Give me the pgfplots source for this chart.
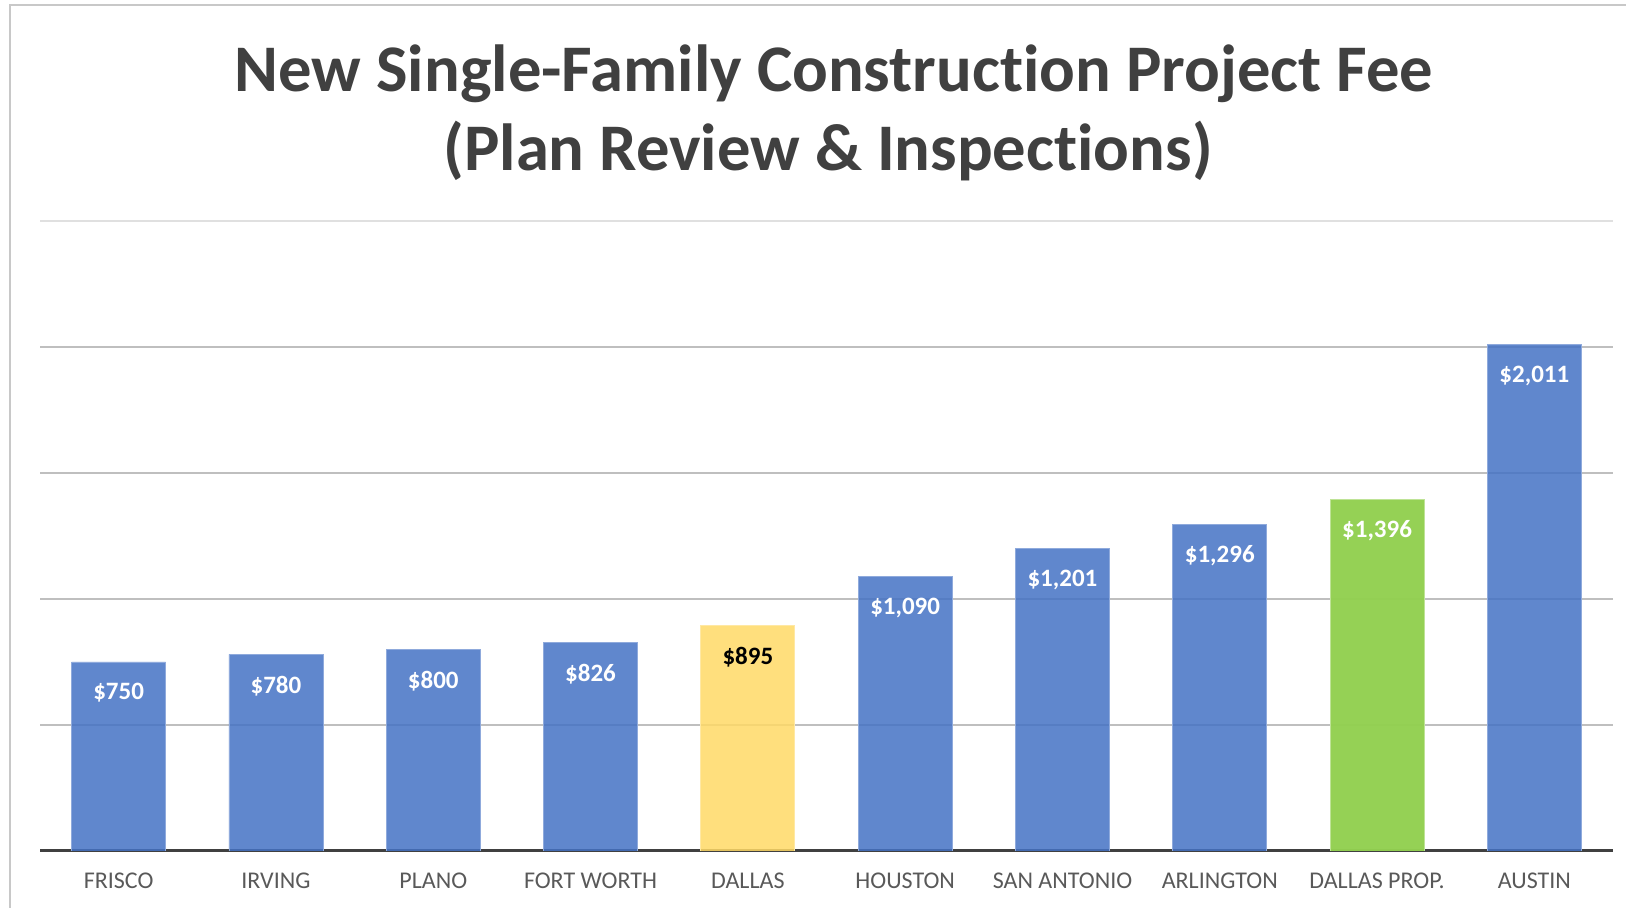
\documentclass[border=0pt]{standalone}
\usepackage{pgfplots}
\pgfplotsset{compat=1.18}
\usepackage{fontspec}
\setmainfont[Ligatures={NoCommon,NoContextual}]{Carlito}
\definecolor{barblue}{HTML}{4472C4}
\definecolor{baryellow}{HTML}{FFD966}
\definecolor{bargreen}{HTML}{92D050}
\definecolor{titlegray}{HTML}{404040}
\definecolor{tickgray}{HTML}{595959}
\definecolor{gridgray}{HTML}{BFBFBF}
\definecolor{framegray}{HTML}{C8C8C8}
\begin{document}
\begin{tikzpicture}
\begin{axis}[
  at={(0,0)}, anchor=south west,
  scale only axis,
  width=786.5pt, height=315pt,
  xmin=-0.5, xmax=9.5, ymin=0, ymax=2500,
  axis x line*=bottom, axis y line*=left,
  x axis line style={draw=titlegray, line width=1.5pt},
  y axis line style={draw=none},
  xtick={0,...,9},
  xticklabels={FRISCO,IRVING,PLANO,FORT WORTH,DALLAS,HOUSTON,SAN ANTONIO,ARLINGTON,DALLAS PROP.,AUSTIN},
  xticklabel style={anchor=base, yshift=-19pt, font=\fontsize{12}{14}\selectfont, text=tickgray},
  major tick length=0pt,
  ytick={500,1000,1500,2000},
  yticklabels={},
  ymajorgrids,
  major grid style={draw=gridgray, line width=0.7pt},
  ybar, bar width=47pt, bar shift=0pt,
  /pgf/number format/assume math mode=true,
  point meta=y,
  nodes near coords={\$\pgfmathprintnumber[fixed, precision=0, 1000 sep={,}]{\pgfplotspointmeta}},
  every node near coord/.append style={anchor=north, yshift=-10.5pt, inner sep=0pt, text opacity=1, font=\bfseries\fontsize{12.5}{15}\selectfont},
]
\addplot[fill=barblue, draw=barblue!60!white, line width=0.4pt, fill opacity=0.85,
  every node near coord/.append style={text=white}] coordinates {
  (0,750) (1,780) (2,800) (3,826) (5,1090) (6,1201) (7,1296) (9,2011)};
\addplot[fill=baryellow, draw=baryellow!60!white, line width=0.4pt, fill opacity=0.85,
  every node near coord/.append style={text=black}] coordinates {(4,895)};
\addplot[fill=bargreen, draw=bargreen!60!white, line width=0.4pt, fill opacity=0.97,
  every node near coord/.append style={text=white}] coordinates {(8,1396)};
\draw[draw=black!12, line width=0.6pt] (rel axis cs:0,1) -- (rel axis cs:1,1);
\end{axis}
\node[anchor=base, text=titlegray, font=\bfseries\fontsize{33.3}{40}\selectfont] at (397pt,379.9pt) {New Single-Family Construction Project Fee};
\node[anchor=base, text=titlegray, font=\bfseries\fontsize{33.3}{40}\selectfont] at (394pt,340pt) {(Plan Review \& Inspections)};
\draw[framegray, line width=1pt] (-14.75pt,-40pt) -- (-14.75pt,422.75pt) -- (800pt,422.75pt);
\pgfresetboundingbox
\path[use as bounding box] (-20pt,-28.5pt) rectangle (793pt,425.5pt);
\end{tikzpicture}
\end{document}
